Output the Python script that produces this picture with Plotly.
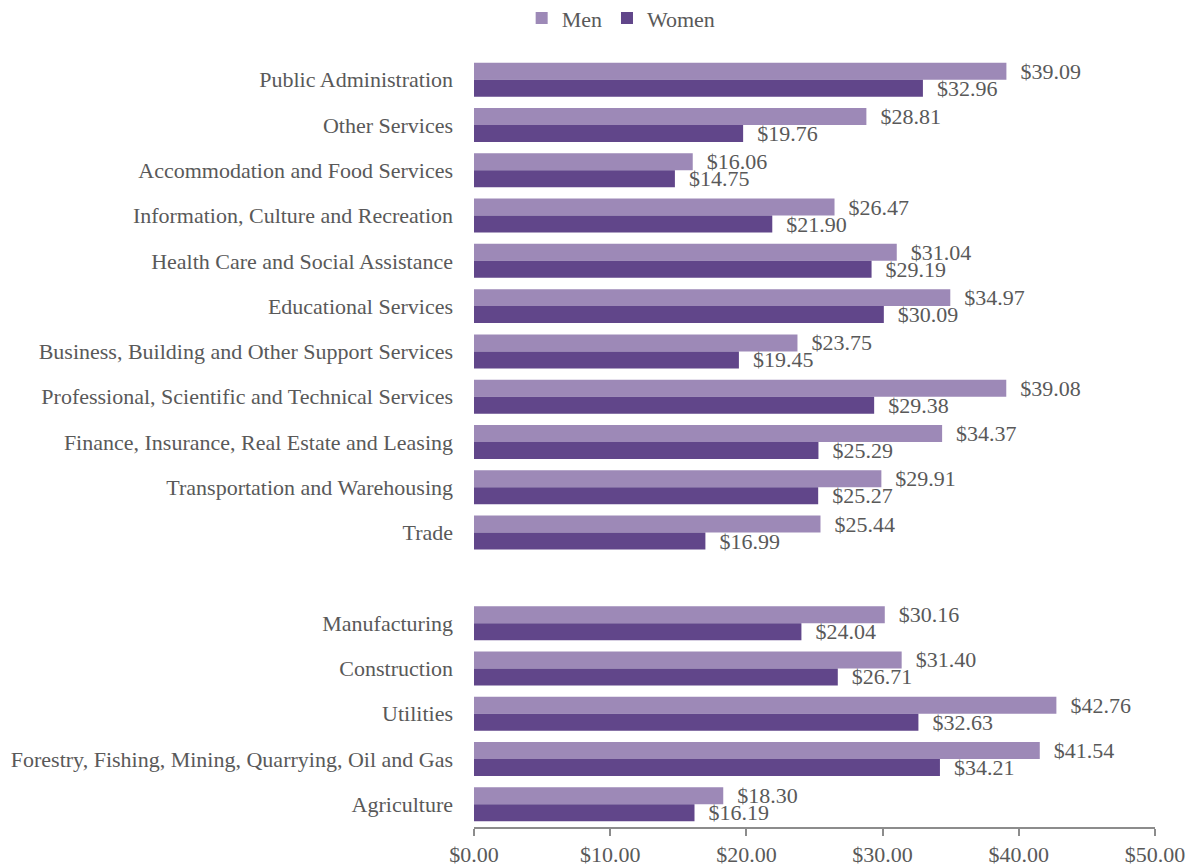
import plotly.graph_objects as go

# top to bottom as in the picture; " " is the empty gap row
industries = [
    "Public Administration",
    "Other Services",
    "Accommodation and Food Services",
    "Information, Culture and Recreation",
    "Health Care and Social Assistance",
    "Educational Services",
    "Business, Building and Other Support Services",
    "Professional, Scientific and Technical Services",
    "Finance, Insurance, Real Estate and Leasing",
    "Transportation and Warehousing",
    "Trade",
    " ",
    "Manufacturing",
    "Construction",
    "Utilities",
    "Forestry, Fishing, Mining, Quarrying, Oil and Gas",
    "Agriculture",
]
men = [39.09, 28.81, 16.06, 26.47, 31.04, 34.97, 23.75, 39.08, 34.37, 29.91, 25.44,
       None, 30.16, 31.40, 42.76, 41.54, 18.30]
women = [32.96, 19.76, 14.75, 21.90, 29.19, 30.09, 19.45, 29.38, 25.29, 25.27, 16.99,
         None, 24.04, 26.71, 32.63, 34.21, 16.19]
x_ticks = [0, 10, 20, 30, 40, 50]

FONT = "Liberation Serif, Times New Roman, serif"
GREY = "#595959"
LABEL = "\u00a0\u00a0$%{x:.2f}"

fig = go.Figure()
fig.add_trace(go.Bar(
    y=industries, x=men, name="Men", orientation="h",
    marker={"color": "#9D89B7", "line": {"width": 0}},
    texttemplate=LABEL, textposition="outside", cliponaxis=False,
    constraintext="none",
    textfont={"family": FONT, "size": 22, "color": GREY},
))
fig.add_trace(go.Bar(
    y=industries, x=women, name="Women", orientation="h",
    marker={"color": "#61468A", "line": {"width": 0}},
    texttemplate=LABEL, textposition="outside", cliponaxis=False,
    constraintext="none",
    textfont={"family": FONT, "size": 22, "color": GREY},
))

# page body adds an 8px offset, so the figure is drawn 8px smaller
fig.update_layout(
    width=1186,
    height=859,
    barmode="group",
    bargap=0.25,
    bargroupgap=0,
    plot_bgcolor="white",
    paper_bgcolor="white",
    font={"family": FONT, "size": 22, "color": GREY},
    margin={"l": 466, "r": 39, "t": 49, "b": 40},
    legend={
        "orientation": "h",
        "xref": "container", "yref": "container",
        "x": 0.517, "y": 0.988,
        "xanchor": "center", "yanchor": "middle",
        "font": {"family": FONT, "size": 22, "color": GREY},
        "itemwidth": 30,
    },
)
fig.update_yaxes(
    type="category",
    categoryorder="array",
    categoryarray=industries,
    autorange="reversed",
    automargin=False,
    showline=False,
    showgrid=False,
    ticks="",
    ticklabelstandoff=20,
    tickfont={"family": FONT, "size": 22, "color": GREY},
)
fig.update_xaxes(
    range=[0, 50],
    tickvals=x_ticks,
    ticktext=[f"${v:.2f}" for v in x_ticks],
    automargin=False,
    showgrid=False,
    zeroline=False,
    showline=True,
    linecolor="#8C8C8C",
    linewidth=2,
    ticks="outside",
    ticklen=7,
    tickcolor="#8C8C8C",
    tickwidth=2,
    ticklabelstandoff=0,
    tickfont={"family": FONT, "size": 22, "color": GREY},
)

fig.write_html("out.html")
